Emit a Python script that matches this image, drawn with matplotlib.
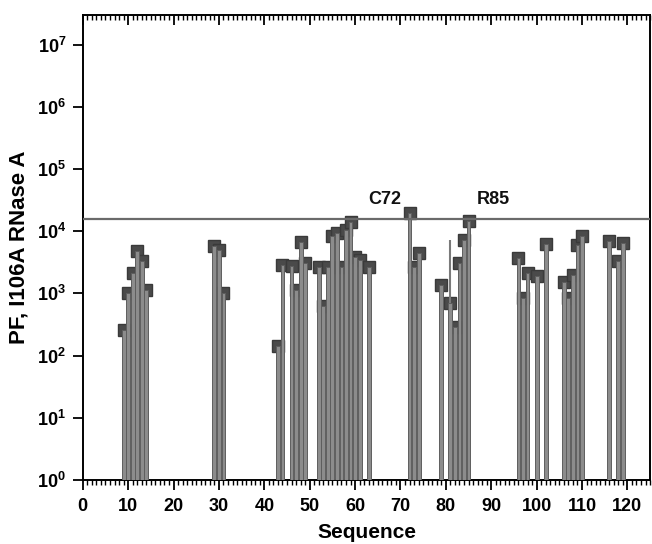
import matplotlib
matplotlib.use("Agg")
import matplotlib.pyplot as plt
from matplotlib.ticker import MultipleLocator, FixedLocator, NullLocator

plt.rcParams['font.family'] = ['Liberation Sans', 'DejaVu Sans']
plt.rcParams['mathtext.fontset'] = 'custom'
plt.rcParams['mathtext.rm'] = 'Liberation Sans:bold'
plt.rcParams['mathtext.bf'] = 'Liberation Sans:bold'

# ---- data ----
positions = [9, 10, 11, 12, 13, 14,
             29, 30, 31,
             43, 44, 46, 47, 48, 49,
             52, 53, 54, 55, 56, 57, 58, 59, 60, 61, 63,
             72, 73, 74,
             79, 81, 82, 83, 84, 85,
             96, 97, 98, 100, 102,
             106, 107, 108, 109, 110,
             116, 118, 119]
pf_values = [260, 1000, 2150, 4800, 3300, 1150,
             5700, 5000, 1020,
             140, 2900, 2800, 1150, 6800, 3100,
             2650, 620, 2650, 8400, 9400, 2700, 10600, 14000, 3900, 3400, 2700,
             19500, 2700, 4400,
             1380, 700, 290, 3100, 7300, 14500,
             3700, 850, 2100, 1900, 6300,
             1550, 850, 1950, 6000, 8300,
             6900, 3300, 6500]
spike_x = [81]
spike_top = [7300]
threshold = 16000
annot_labels = ["C72", "R85"]
annot_x = [66.5, 90.5]
annot_y = [33000, 33000]
y_exponents = [0, 1, 2, 3, 4, 5, 6, 7]
x_ticks = [0, 10, 20, 30, 40, 50, 60, 70, 80, 90, 100, 110, 120]

fig = plt.figure(figsize=(6.52, 5.44), dpi=100)
ax = fig.add_axes([0.127, 0.118, 0.870, 0.854])

# markers under bars (gives the Π look)
ax.plot(positions, pf_values, linestyle='none', marker='s', markersize=8,
        markerfacecolor='#4a4a4a', markeredgecolor='#3a3a3a', zorder=2)
ax.bar(positions, pf_values, width=0.85, bottom=1, color='#8c8c8c',
       edgecolor='#5e5e5e', linewidth=0.7, zorder=3)
ax.vlines(spike_x, [pf_values[positions.index(s)] for s in spike_x], spike_top,
          color='#7a7a7a', linewidth=1.5, zorder=3)

ax.axhline(threshold, color='#6a6a6a', linewidth=1.6, zorder=4)
for lab, xx, yy in zip(annot_labels, annot_x, annot_y):
    ax.text(xx, yy, lab, ha='center', va='center', fontsize=13,
            fontweight='bold', color='#111111')

ax.set_yscale('log')
ax.set_ylim(1, 3e7)
ax.set_xlim(0, 125)

ax.yaxis.set_major_locator(FixedLocator([10 ** e for e in y_exponents]))
ax.yaxis.set_minor_locator(NullLocator())
ax.set_yticklabels([r'$\mathbf{10^{%d}}$' % e for e in y_exponents])
ax.xaxis.set_major_locator(FixedLocator(x_ticks))
ax.xaxis.set_minor_locator(MultipleLocator(1))
ax.set_xticklabels([str(t) for t in x_ticks])

ax.tick_params(axis='both', which='major', width=1.3, length=7,
               direction='out')
ax.tick_params(axis='x', which='major', labelsize=13, pad=6)
ax.tick_params(axis='y', which='major', labelsize=13, pad=5)
ax.tick_params(axis='x', which='minor', length=3.5, width=1.0, direction='out')
ax.tick_params(axis='x', which='both', top=True)
for t in ax.get_xticklabels() + ax.get_yticklabels():
    t.set_fontweight('bold')

# top ticks inward
for tk in ax.xaxis.get_major_ticks() + ax.xaxis.get_minor_ticks():
    tk.tick2line.set_marker(3)

for sp in ax.spines.values():
    sp.set_linewidth(1.4)

ax.set_xlabel('Sequence', fontsize=15, fontweight='bold', va='center')
ax.xaxis.set_label_coords(0.5, -0.114)
ax.set_ylabel('PF, I106A RNase A', fontsize=16, fontweight='bold', va='center')
ax.yaxis.set_label_coords(-0.112, 0.5)

fig.savefig('out.png', dpi=100)
